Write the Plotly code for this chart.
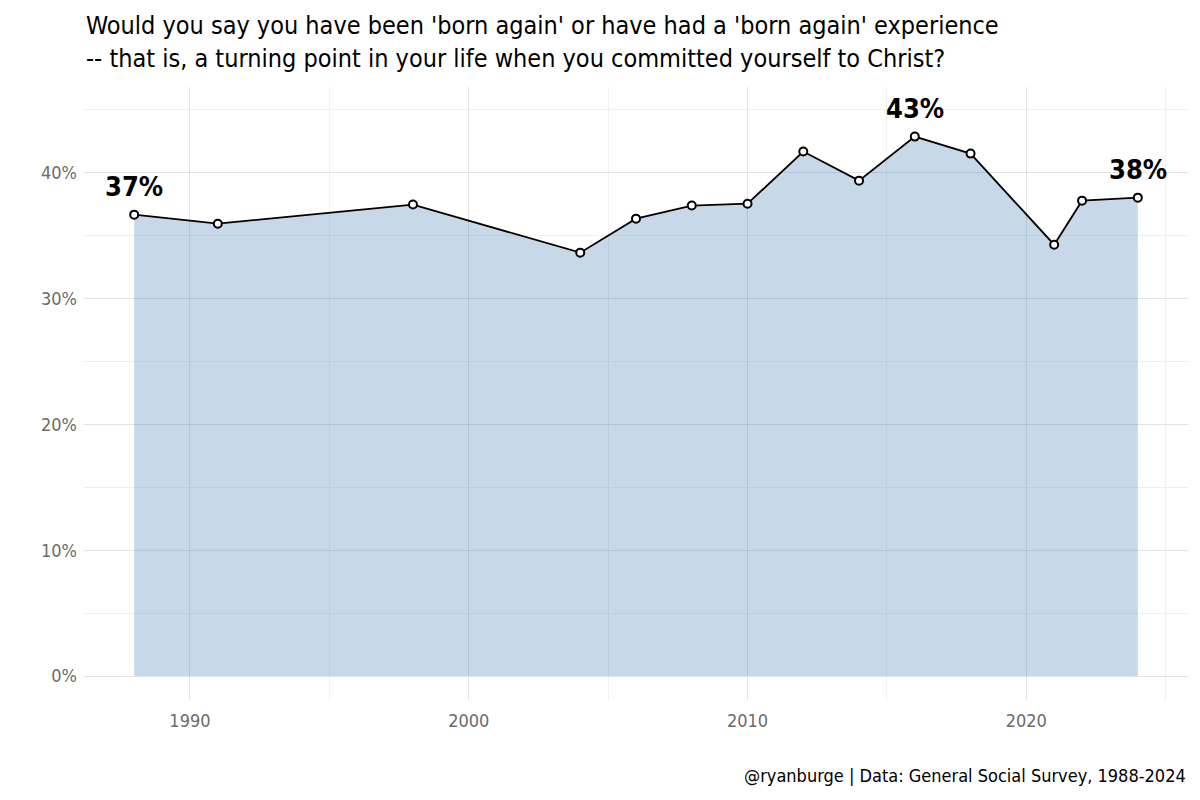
import plotly.graph_objects as go

years = [1988, 1991, 1998, 2004, 2006, 2008, 2010, 2012, 2014, 2016, 2018, 2021, 2022, 2024]
values = [0.3666, 0.3594, 0.3746, 0.3364, 0.3634, 0.3738, 0.3753, 0.4167, 0.3936, 0.4286, 0.4151, 0.3427, 0.3777, 0.3801]
label_years = [1988, 2016, 2024]
label_values = [0.3666, 0.4286, 0.3801]
label_texts = ["37%", "43%", "38%"]

title_lines = ["Would you say you have been 'born again' or have had a 'born again' experience",
               "-- that is, a turning point in your life when you committed yourself to Christ?"]
caption = "@ryanburge | Data: General Social Survey, 1988-2024"

FONT = "Liberation Sans Narrow, DejaVu Sans Condensed, Roboto, sans-serif"

# page body adds an 8px offset; margins compensate
ML, MR, MT, MB = 76, 20, 79, 108
PH = 800 - MT - MB

fig = go.Figure()
fig.add_trace(go.Scatter(
    x=years, y=values, mode="lines", fill="tozeroy",
    fillcolor="rgba(70,130,180,0.3)", line=dict(color="rgba(0,0,0,0)", width=0),
    hoverinfo="skip", showlegend=False))
fig.add_trace(go.Scatter(
    x=years, y=values, mode="lines+markers",
    line=dict(color="black", width=1.8),
    marker=dict(size=8, color="white", line=dict(color="black", width=2)),
    showlegend=False))

annotations = []
for yr, v, t in zip(label_years, label_values, label_texts):
    annotations.append(dict(x=yr, y=v, text=t, showarrow=False, xanchor="center", yanchor="middle",
                            yshift=28, font=dict(family=FONT, size=27, color="black", weight="bold")))
annotations.append(dict(text="<br>".join(title_lines), xref="paper", yref="paper", x=0.0, xanchor="left",
                        align="left", y=1 + (MT - 1) / PH, yanchor="top", showarrow=False,
                        font=dict(family=FONT, size=25, color="black")))
annotations.append(dict(text=caption, xref="paper", yref="paper", x=1.0, y=-75 / PH,
                        xanchor="right", yanchor="middle", showarrow=False,
                        font=dict(family=FONT, size=18, color="black")))

fig.update_layout(
    width=1200, height=800,
    paper_bgcolor="white", plot_bgcolor="white",
    margin=dict(l=ML, r=MR, t=MT, b=MB),
    font=dict(family=FONT),
    annotations=annotations,
)
fig.update_xaxes(
    range=[1986.2, 2025.8], tickvals=[1990, 2000, 2010, 2020], automargin=False,
    showgrid=True, gridcolor="#e3e3e3", gridwidth=1.3,
    minor=dict(tickvals=[1985, 1995, 2005, 2015, 2025], showgrid=True, gridcolor="#f0f0f0", gridwidth=1),
    zeroline=False, showline=False, ticks="", ticklabelstandoff=8,
    tickfont=dict(family=FONT, size=18, color="#6b6b6b"),
)
fig.update_yaxes(
    range=[-0.019, 0.468], tickvals=[0, 0.1, 0.2, 0.3, 0.4], tickformat=".0%", automargin=False,
    showgrid=True, gridcolor="#e3e3e3", gridwidth=1.3,
    minor=dict(tickvals=[0.05, 0.15, 0.25, 0.35, 0.45], showgrid=True, gridcolor="#f0f0f0", gridwidth=1),
    zeroline=False, showline=False, ticks="", ticklabelstandoff=6,
    tickfont=dict(family=FONT, size=18, color="#6b6b6b"),
)

fig.write_html("out.html")
